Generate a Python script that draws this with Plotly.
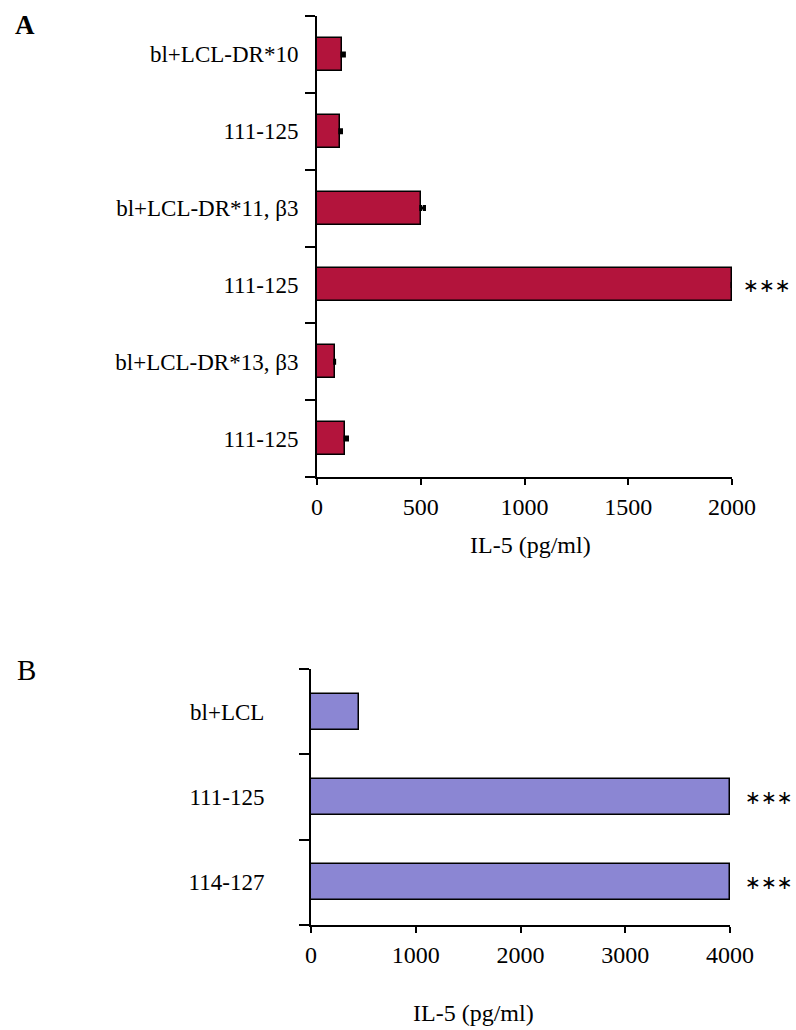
import plotly.graph_objects as go

# Panel A: IL-5 release against peptide-pulsed LCL lines
labels_a = ["bl+LCL-DR*10", "111-125", "bl+LCL-DR*11, β3", "111-125",
            "bl+LCL-DR*13, β3", "111-125"]
values_a = [120, 110, 500, 2000, 85, 135]
errors_a = [12, 8, 18, 0, 0, 12]
stars_a = ["", "", "", "∗∗∗", "", ""]

# Panel B: IL-5 release against two peptides
labels_b = ["bl+LCL", "111-125", "114-127"]
values_b = [460, 4000, 4000]
stars_b = ["", "∗∗∗", "∗∗∗"]

W, H = 796, 1030
RED = "#B3143C"
BLUE = "#8B86D3"
SERIF = "Liberation Serif, Times New Roman, serif"


def px(x):
    return x / W


def py(y):
    return 1 - y / H


pos_a = list(range(len(labels_a)))
pos_b = list(range(len(labels_b)))

fig = go.Figure()

fig.add_trace(go.Bar(
    x=values_a, y=pos_a, orientation="h", xaxis="x", yaxis="y",
    width=0.43, marker=dict(color=RED, line=dict(color="black", width=1.5)),
    error_x=dict(type="data", symmetric=False, array=errors_a,
                 arrayminus=[0] * len(errors_a), color="black",
                 thickness=3, width=3),
    showlegend=False, hoverinfo="x+y",
))

fig.add_trace(go.Bar(
    x=values_b, y=pos_b, orientation="h", xaxis="x2", yaxis="y2",
    width=0.42, marker=dict(color=BLUE, line=dict(color="black", width=1.5)),
    showlegend=False, hoverinfo="x+y",
))


def xaxis_style(domain, rng, dtick):
    return dict(
        domain=domain, range=rng, tickmode="linear", tick0=0, dtick=dtick,
        ticks="outside", ticklen=6, tickwidth=1.5, tickcolor="black",
        showline=True, linewidth=2, linecolor="black",
        showgrid=False, zeroline=False, automargin=False,
        tickfont=dict(family=SERIF, size=24, color="black"),
        ticklabelstandoff=1, fixedrange=True,
    )


def yaxis_style(domain, labels, standoff):
    n = len(labels)
    return dict(
        domain=domain, range=[n - 0.5, -0.5],
        tickmode="array", tickvals=list(range(n)), ticktext=labels,
        ticks="", showline=True, linewidth=2, linecolor="black",
        minor=dict(tickmode="array", tickvals=[i - 0.5 for i in range(n + 1)],
                   ticks="outside", ticklen=10, tickwidth=1.5,
                   tickcolor="black", showgrid=False),
        showgrid=False, zeroline=False, automargin=False,
        tickfont=dict(family=SERIF, size=23, color="black"),
        ticklabelstandoff=standoff, fixedrange=True,
    )


annotations = []
for v, p, s in zip(values_a, pos_a, stars_a):
    if s:
        annotations.append(dict(x=v, y=p, xref="x", yref="y", text=s,
                                xanchor="left", yanchor="middle", xshift=9,
                                showarrow=False,
                                font=dict(family="DejaVu Sans", size=19,
                                          color="black")))
for v, p, s in zip(values_b, pos_b, stars_b):
    if s:
        annotations.append(dict(x=v, y=p, xref="x2", yref="y2", text=s,
                                xanchor="left", yanchor="middle", xshift=13,
                                showarrow=False,
                                font=dict(family="DejaVu Sans", size=19,
                                          color="black")))

annotations += [
    dict(x=px(530), y=py(545), xref="paper", yref="paper",
         text="IL-5 (pg/ml)", showarrow=False, xanchor="center",
         yanchor="middle", font=dict(family=SERIF, size=24, color="black")),
    dict(x=px(473), y=py(1013), xref="paper", yref="paper",
         text="IL-5 (pg/ml)", showarrow=False, xanchor="center",
         yanchor="middle", font=dict(family=SERIF, size=24, color="black")),
    dict(x=px(25), y=py(25), xref="paper", yref="paper", text="<b>A</b>",
         showarrow=False, xanchor="center", yanchor="middle",
         font=dict(family=SERIF, size=27, color="black")),
    dict(x=px(26), y=py(670), xref="paper", yref="paper", text="B",
         showarrow=False, xanchor="center", yanchor="middle",
         font=dict(family=SERIF, size=29, color="black")),
]

fig.update_layout(
    width=W, height=H, autosize=False,
    margin=dict(l=0, r=0, t=0, b=0, pad=0),
    paper_bgcolor="white", plot_bgcolor="white",
    xaxis=dict(anchor="y", **xaxis_style([px(317), px(732)], [0, 2000], 500)),
    yaxis=dict(anchor="x", **yaxis_style([py(477), py(16)], labels_a, 12)),
    xaxis2=dict(anchor="y2", **xaxis_style([px(311), px(730)], [0, 4000], 1000)),
    yaxis2=dict(anchor="x2", **yaxis_style([py(925), py(669)], labels_b, 40)),
    annotations=annotations,
    bargap=0,
)

fig.write_html("out.html")
